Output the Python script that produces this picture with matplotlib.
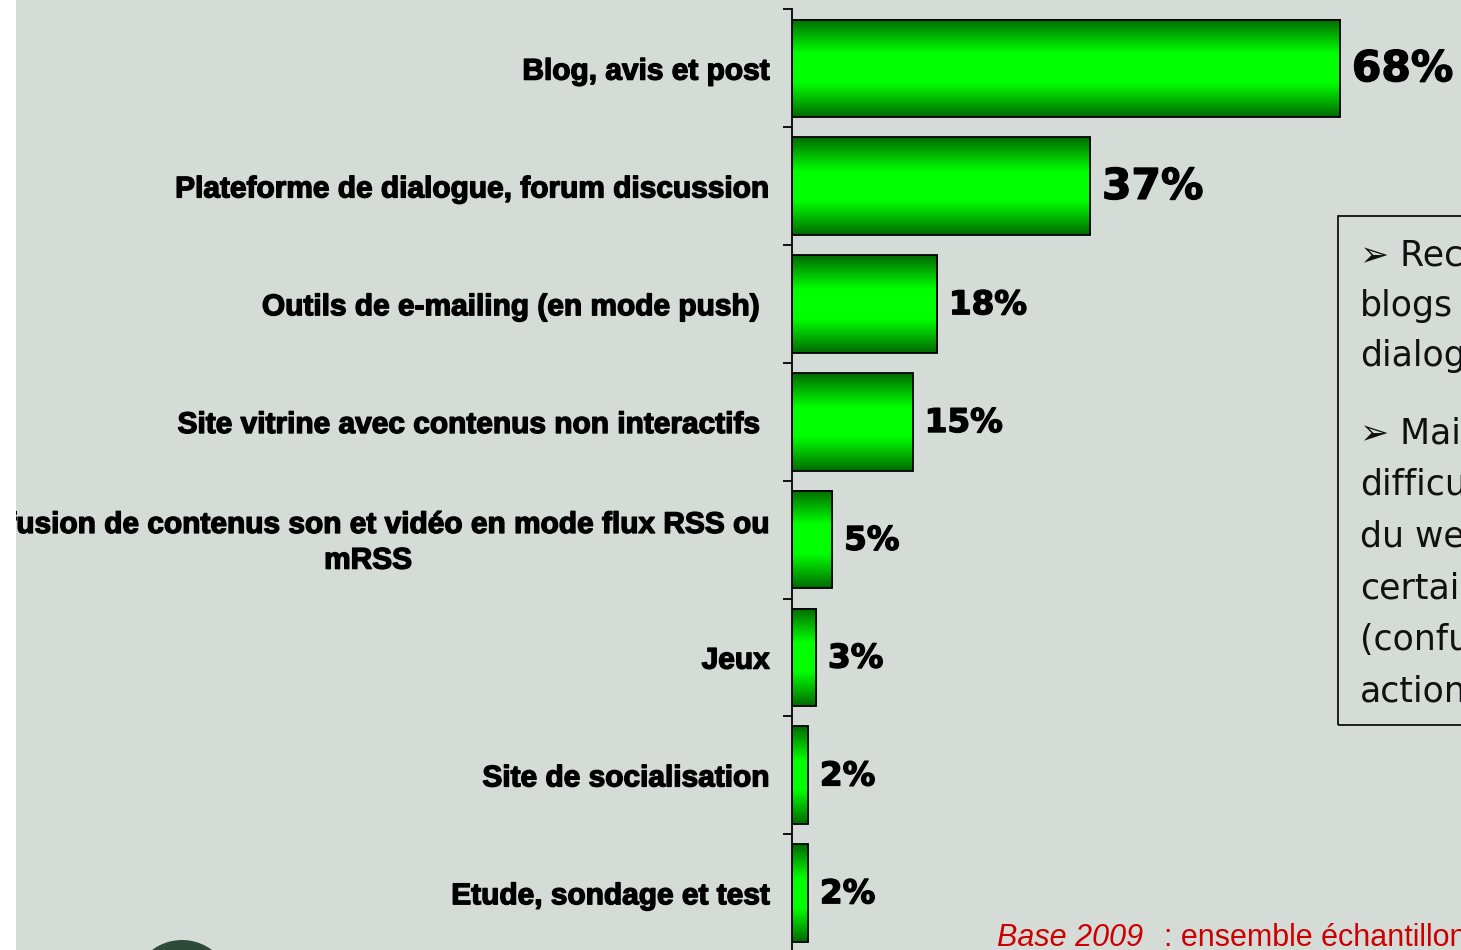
import numpy as np
import matplotlib
matplotlib.use("Agg")
import matplotlib.pyplot as plt
import matplotlib.patheffects as pe
from matplotlib.patches import Rectangle, Circle
from matplotlib.colors import LinearSegmentedColormap

categories = [
    "Blog, avis et post",
    "Plateforme de dialogue, forum discussion",
    "Outils de e-mailing (en mode push)",
    "Site vitrine avec contenus non interactifs",
    "Diffusion de contenus son et vidéo en mode flux RSS ou\nmRSS",
    "Jeux",
    "Site de socialisation",
    "Etude, sondage et test",
]
values = [68, 37, 18, 15, 5, 3, 2, 2]

note_1 = ["➢ Recours", "blogs", "dialogue"]
note_2 = ["➢ Mais", "difficultés", "du web", "certaines", "(confusion", "actions"]
base_label = "Base 2009"
base_text = ": ensemble échantillon"

W, H = 1461, 950
BG = "#D5DCD8"

fig = plt.figure(figsize=(W / 100, H / 100), dpi=100, facecolor=BG)
inch = fig.dpi_scale_trans


def px(x, y):
    # pixel position from the top-left corner -> inches for dpi_scale_trans
    return x / 100, (H - y) / 100


# bar area: axis line at x=792, first tick at y=9.5, 117.8 px per category
ax_left, ax_top, row_h = 792, 9.5, 117.8
ax_bottom = ax_top + row_h * len(categories)
ax = fig.add_axes([ax_left / W, 1 - ax_bottom / H, (W - ax_left) / W, (ax_bottom - ax_top) / H])
ax.set_facecolor("none")

pos = np.arange(len(categories))
bars = ax.barh(pos, values, height=0.83, facecolor="none", edgecolor="black", lw=1.3, zorder=3)

# vertical green gradient inside each bar (dark edges, bright middle)
cmap = LinearSegmentedColormap.from_list("grn", ["#006A00", "#00FF00"])
t = np.linspace(-1, 1, 256)
shade = np.clip((1 - np.abs(t)) / 0.7, 0, 1)[:, None]
for b in bars:
    x0, y0, w, h = b.get_x(), b.get_y(), b.get_width(), b.get_height()
    ax.imshow(shade, cmap=cmap, vmin=0, vmax=1, aspect="auto",
              extent=(x0, x0 + w, y0 + h, y0), zorder=2, interpolation="bilinear")

ax.set_xlim(0, (W - ax_left) / 8.06)
ax.set_ylim(len(categories) - 0.5, -0.5)

for s in ["top", "right", "bottom"]:
    ax.spines[s].set_visible(False)
ax.spines["left"].set_linewidth(1.3)
ax.set_xticks([])
ax.set_yticks(np.arange(-0.5, len(categories), 1))
ax.set_yticklabels([])
ax.tick_params(axis="y", direction="out", length=6.5, width=1.3)

heavy = [pe.withStroke(linewidth=1.0, foreground="black")]

# category names, right aligned left of the axis
shift = {2: -7, 3: -7}
for i, name in enumerate(categories):
    ax.annotate(name, xy=(0, i), xytext=(-16 + shift.get(i, 0), -2.3), textcoords="offset points",
                ha="right", va="center", multialignment="center", linespacing=1.35,
                fontsize=21.5, fontweight="bold", family=["Liberation Sans", "DejaVu Sans"],
                path_effects=heavy, annotation_clip=False)

# value labels
for i, v in enumerate(values):
    ax.annotate(f"{v}%", xy=(v, i), xytext=(8.5, -0.5), textcoords="offset points",
                ha="left", va="center", fontsize=30.5 if v > 30 else 23.5,
                fontweight="bold", family="DejaVu Sans", path_effects=heavy,
                annotation_clip=False)

# comment box on the right
bx, by = px(1338, 725)
fig.add_artist(Rectangle((bx, by), 2.0, (725 - 216) / 100, transform=inch,
                         fill=False, edgecolor="black", lw=1.2))
for k, line in enumerate(note_1):
    fig.text(*px(1360, 256 + 50 * k), line, transform=inch, va="center", ha="left",
             fontsize=25, family="DejaVu Sans", color="#111111")
for k, line in enumerate(note_2):
    fig.text(*px(1360, 434 + 51.4 * k), line, transform=inch, va="center", ha="left",
             fontsize=25, family="DejaVu Sans", color="#111111")

# source line at the bottom
t1 = fig.text(*px(997, 946), base_label, transform=inch, va="baseline", ha="left",
              fontsize=22, style="italic", color="#CC0000", family="Liberation Sans")
fig.add_artist(plt.Annotation(base_text, xy=(1, 0), xycoords=t1, xytext=(15, 0),
                              textcoords="offset points", va="bottom", ha="left",
                              fontsize=22, color="#CC0000", family="Liberation Sans"))

# decorative dark circle in the corner
fig.add_artist(Circle(px(182, 990), 0.5, transform=inch, color="#2E4A3B", lw=0))

# white margin strip on the left
fig.add_artist(Rectangle((0, 0), 0.155, H / 100, transform=inch, color="white", lw=0, zorder=10))

fig.savefig("out.png", dpi=100, facecolor=BG)
